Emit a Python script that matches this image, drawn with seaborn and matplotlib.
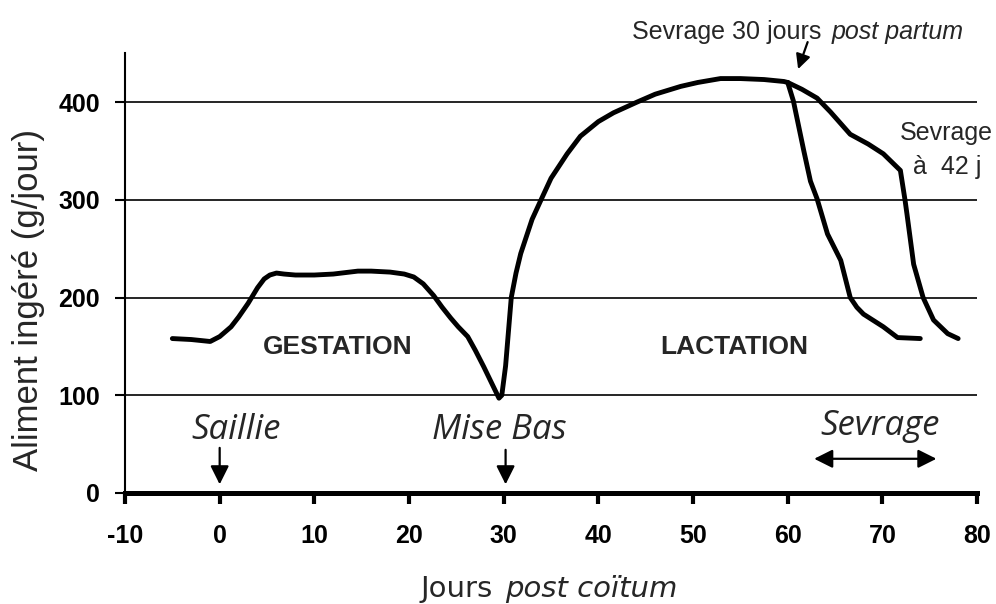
import matplotlib
matplotlib.use("Agg")
import matplotlib.pyplot as plt
import seaborn as sns
import pandas as pd

# Courbe commune gestation + lactation (jours post coitum, g/jour)
jours_commun = [-5, -3, -1, 0, 1.2, 2, 3, 4, 4.7, 5.3, 6, 6.8, 8, 10, 12, 14.6, 16, 18,
                19.5, 20.5, 21.5, 22.6, 23.5, 24.4, 25.2, 26.2, 27, 27.9, 28.7, 29.2,
                29.5, 29.8, 30.2, 30.5, 30.8, 31.3, 31.8, 33, 33.9, 35, 36.7, 38.1,
                40, 41.6, 44.1, 46, 48.7, 50.5, 52.9, 55, 57.5, 59.6, 60]
aliment_commun = [158, 157, 155, 160, 170, 180, 194, 210, 219, 223, 225, 224, 223, 223,
                  224, 227, 227, 226, 224, 221, 214, 202, 190, 179, 170, 160, 146, 129,
                  113, 103, 97, 100, 130, 165, 200, 225, 245, 280, 299, 322, 347, 365,
                  380, 389, 400, 408, 416, 420, 424, 424, 423, 421, 420]

# Sevrage a 30 jours post partum
jours_sev30 = [60, 60.6, 61.7, 62.4, 63.1, 64.2, 65.6, 66.6, 67.3, 68, 70.1, 71.6, 74]
aliment_sev30 = [420, 401, 350, 319, 301, 265, 238, 200, 190, 183, 170, 159, 158]

# Sevrage a 42 jours
jours_sev42 = [60, 61.5, 63.1, 64.5, 66.6, 68.5, 70.1, 71.9, 72.4, 72.6, 73.3, 74.3,
               75.4, 76.9, 78]
aliment_sev42 = [420, 413, 404, 390, 367, 357, 347, 330, 299, 285, 234, 200, 177, 163,
                 158]

x_ticks = [-10, 0, 10, 20, 30, 40, 50, 60, 70, 80]
y_ticks = [0, 100, 200, 300, 400]

sns.set_style("white")
plt.rcParams['font.family'] = ['Liberation Sans', 'DejaVu Sans']

fig = plt.figure(figsize=(9.96, 6.04), dpi=100)
ax = fig.add_axes([0.1255, 0.1838, 0.8555, 0.7282])

for jx, ay in [(jours_commun, aliment_commun), (jours_sev30, aliment_sev30),
               (jours_sev42, aliment_sev42)]:
    df = pd.DataFrame({'jour': jx, 'aliment': ay})
    sns.lineplot(data=df, x='jour', y='aliment', sort=False, color='black',
                 linewidth=3.5, ax=ax, zorder=3)

ax.set_xlim(-10, 80)
ax.set_ylim(0, 450)
ax.set_xticks(x_ticks)
ax.set_yticks(y_ticks)
ax.set_xticklabels([str(t) for t in x_ticks], fontsize=18, fontweight='bold')
ax.set_yticklabels([str(t) for t in y_ticks], fontsize=18, fontweight='bold')
ax.yaxis.grid(True, color='black', linewidth=1.2)
ax.xaxis.grid(False)
ax.set_axisbelow(True)

for s in ['top', 'right']:
    ax.spines[s].set_visible(False)
ax.spines['bottom'].set_linewidth(3.6)
ax.spines['left'].set_linewidth(1.5)
ax.spines['bottom'].set_color('black')
ax.spines['left'].set_color('black')
ax.tick_params(axis='x', bottom=True, direction='out', length=8, width=3, pad=14,
               colors='black')
ax.tick_params(axis='y', left=True, direction='out', length=7, width=1.5, pad=11,
               colors='black')

ax.set_xlabel('')
ax.set_ylabel('')
fig.text(0.029, 0.503, 'Aliment ingéré (g/jour)', rotation=90, ha='center',
         va='center', fontsize=25)
fig.text(0.495, 0.025, 'Jours', ha='right', va='center', fontsize=21,
         family=['DejaVu Sans'])
fig.text(0.507, 0.025, 'post coïtum', ha='left', va='center', fontsize=21,
         style='italic', family=['DejaVu Sans'])

# phases
ax.text(12.5, 149, 'GESTATION', ha='center', va='center', fontsize=19, fontweight='bold')
ax.text(54.3, 149, 'LACTATION', ha='center', va='center', fontsize=19, fontweight='bold')

# evenements (ecriture manuscrite)
script_font = ['Open Sans', 'DejaVu Sans']
ax.text(1.7, 64, 'Saillie', ha='center', va='center', fontsize=25, style='italic',
        family=script_font)
ax.text(29.5, 64, 'Mise Bas', ha='center', va='center', fontsize=25, style='italic',
        family=script_font)
ax.text(69.7, 69, 'Sevrage', ha='center', va='center', fontsize=25, style='italic',
        family=script_font)

arrow = dict(arrowstyle='-|>', color='black', lw=1.6, mutation_scale=28)
ax.annotate('', xy=(0, 6), xytext=(0, 49), arrowprops=arrow)
ax.annotate('', xy=(30.2, 6), xytext=(30.2, 47), arrowprops=arrow)
ax.annotate('', xy=(76, 35), xytext=(62.5, 35),
            arrowprops=dict(arrowstyle='<|-|>', color='black', lw=1.6, mutation_scale=28))

# sevrage a 30 jours
ax.text(63.6, 472, 'Sevrage 30 jours', ha='right', va='center', fontsize=18,
        clip_on=False)
ax.text(64.6, 472, 'post partum', ha='left', va='center', fontsize=18, style='italic',
        clip_on=False)
ax.annotate('', xy=(61.0, 431), xytext=(62.2, 464), annotation_clip=False,
            arrowprops=dict(arrowstyle='-|>', color='black', lw=1.6, mutation_scale=22))

ax.text(76.8, 351, 'Sevrage\nà  42 j', ha='center', va='center', fontsize=18,
        linespacing=1.5)

fig.savefig('out.png', dpi=100)
